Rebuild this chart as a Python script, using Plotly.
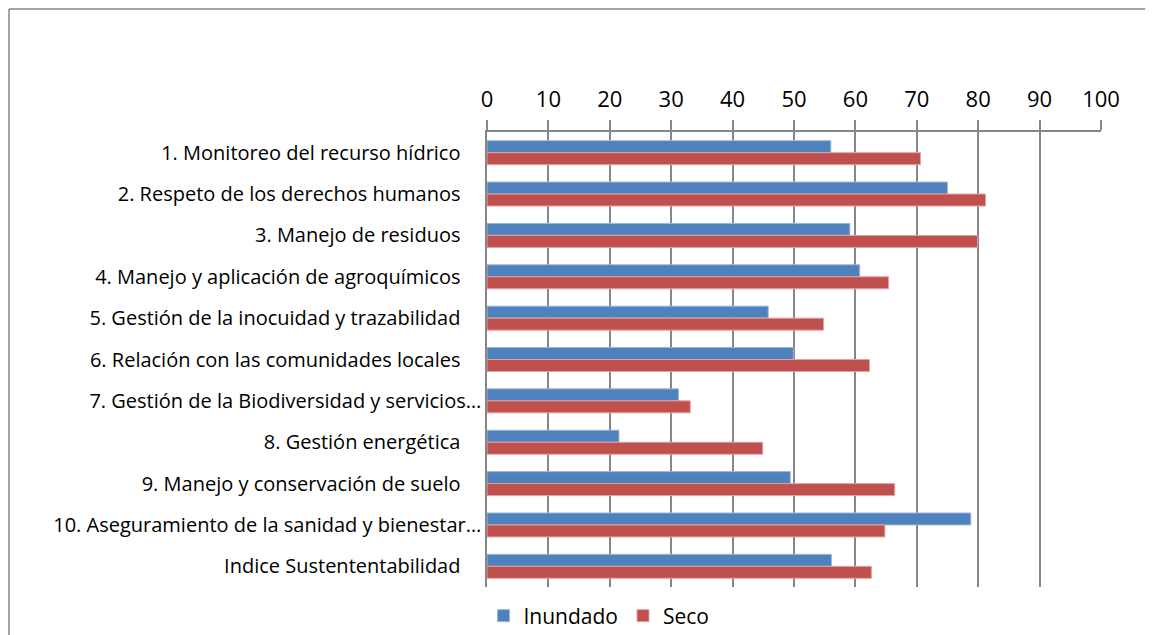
import plotly.graph_objects as go

categories = [
    "1. Monitoreo del recurso hídrico",
    "2. Respeto de los derechos humanos",
    "3. Manejo de residuos",
    "4. Manejo y aplicación de agroquímicos",
    "5. Gestión de la inocuidad y trazabilidad",
    "6. Relación con las comunidades locales",
    "7. Gestión de la Biodiversidad y servicios…",
    "8. Gestión energética",
    "9. Manejo y conservación de suelo",
    "10. Aseguramiento de la sanidad y bienestar…",
    "Indice Sustententabilidad",
]
inundado = [56.0, 75.0, 59.1, 60.7, 45.8, 49.9, 31.2, 21.5, 49.4, 78.8, 56.1]
seco = [70.6, 81.2, 79.9, 65.4, 54.8, 62.3, 33.1, 44.9, 66.4, 64.8, 62.6]
x_ticks = list(range(0, 101, 10))

BLUE = "#4F81BD"
RED = "#C0504D"
FONT = "Open Sans, Noto Sans, sans-serif"

ticktext = [c if c.endswith("…") else c + "\u00a0\u00a0\u00a0\u00a0" for c in categories]

fig = go.Figure()
fig.add_trace(go.Bar(
    y=categories, x=inundado, orientation="h", name="Inundado",
    marker=dict(color=BLUE, line=dict(color="#9DB7DA", width=1)),
))
fig.add_trace(go.Bar(
    y=categories, x=seco, orientation="h", name="Seco",
    marker=dict(color=RED, line=dict(color="#E0A3A1", width=1)),
))

# page body has an 8px offset
OFF = 8
W, H = 1153 - OFF, 635 - OFF
px0, px1, py0, py1 = 487, 1101, 132, 587  # plot area in window pixels
L = px0 - OFF
T = py0 - OFF
pw = px1 - px0
ph = py1 - py0
R = W - L - pw
B = H - T - ph

def xp(px):
    return (px - px0) / pw

def yp(py):
    return (py1 - py) / ph

border = dict(color="#868686", width=1.5)

fig.update_layout(
    width=W, height=H,
    margin=dict(l=L, r=R, t=T, b=B, autoexpand=False),
    paper_bgcolor="white", plot_bgcolor="white",
    barmode="group", bargap=0.42, bargroupgap=0.0,
    font=dict(family=FONT, color="#000000", size=20),
    legend=dict(
        orientation="h", x=xp(599), xanchor="center",
        y=yp(616), yanchor="middle",
        font=dict(size=21, family=FONT), traceorder="normal",
        itemwidth=30,
    ),
    xaxis=dict(
        side="top", range=[0, 100], tickvals=x_ticks,
        ticks="outside", ticklen=10, tickcolor="#868686", tickwidth=1.5,
        showgrid=True, gridcolor="#868686", gridwidth=1.5,
        showline=True, linecolor="#868686", linewidth=1.5,
        zeroline=False, tickfont=dict(size=22, family=FONT),
        ticklabelstandoff=4,
    ),
    yaxis=dict(
        autorange="reversed", tickvals=categories, ticktext=ticktext,
        ticks="", showline=True, linecolor="#868686", linewidth=1.5,
        showgrid=False, tickfont=dict(size=20, family=FONT),
    ),
    shapes=[
        dict(type="line", xref="paper", yref="paper",
             x0=xp(9), x1=xp(1200), y0=yp(9), y1=yp(9), line=border),
        dict(type="line", xref="paper", yref="paper",
             x0=xp(9), x1=xp(9), y0=yp(9), y1=yp(700), line=border),
    ],
)

fig.write_html("out.html")
